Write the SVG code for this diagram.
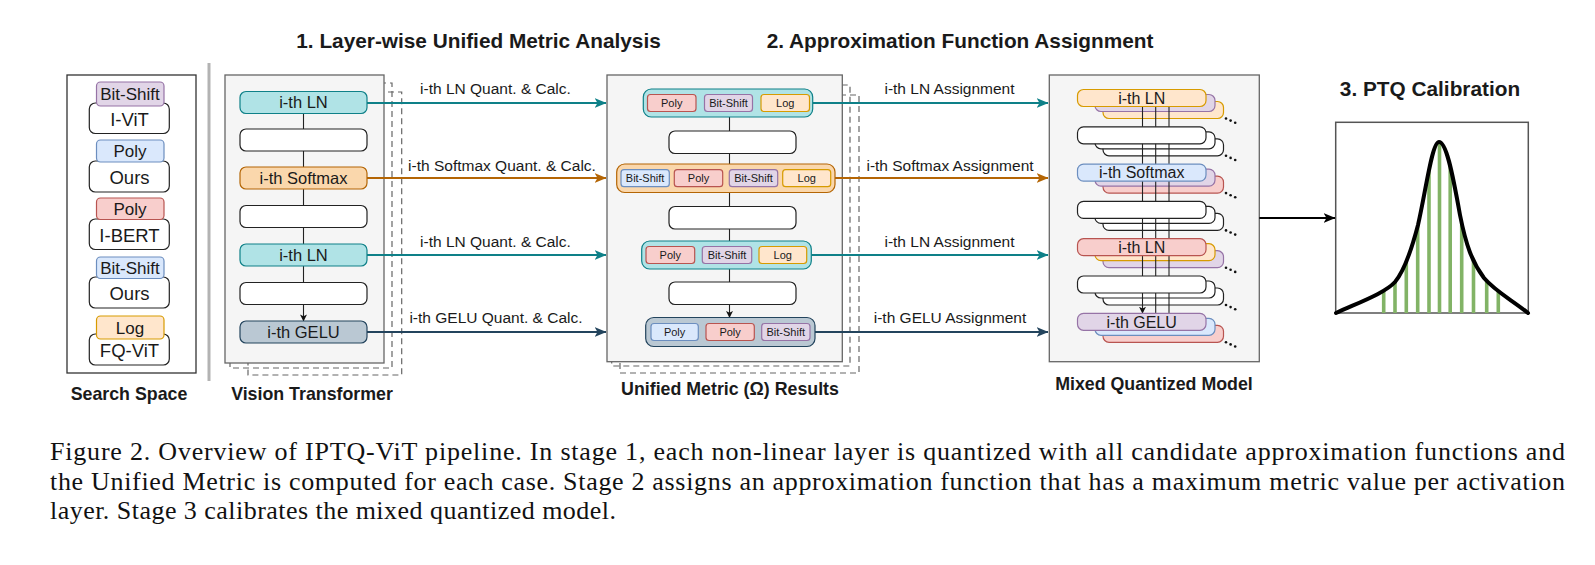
<svg xmlns="http://www.w3.org/2000/svg" width="1595" height="565" viewBox="0 0 1595 565">
<style>
.t{font-family:"Liberation Sans",Arial,sans-serif;fill:#1a1a1a}
.b{font-weight:bold}
.title{font-size:20.8px;font-weight:bold;text-anchor:middle}
.lbl{font-size:17.8px;font-weight:bold;text-anchor:middle}
.nd{font-size:16.5px;text-anchor:middle}
.mq{font-size:16px;text-anchor:middle}
.tab{font-size:17px;text-anchor:middle}
.ss{font-size:18.5px;text-anchor:middle}
.sm{font-size:11px;text-anchor:middle}
.ed{font-size:15.5px;text-anchor:middle}
.cap{font-family:"Liberation Serif","Times New Roman",serif;font-size:26px;fill:#111}
.panel{fill:#f5f5f5;stroke:#666;stroke-width:1.3}
.dash{fill:none;stroke:#666;stroke-width:1.2;stroke-dasharray:6 4}
.wh{fill:#fff;stroke:#222;stroke-width:1.2}
.pu{fill:#e1d5e7;stroke:#9673a6;stroke-width:1.2}
.bl{fill:#dae8fc;stroke:#6c8ebf;stroke-width:1.2}
.rd{fill:#f8cecc;stroke:#b85450;stroke-width:1.2}
.or{fill:#ffe6cc;stroke:#d79b00;stroke-width:1.2}
.te{fill:#b0e3e6;stroke:#0e8088;stroke-width:1.2}
.so{fill:#fad7ac;stroke:#b46504;stroke-width:1.2}
.ge{fill:#bac8d3;stroke:#23445d;stroke-width:1.2}
.cT{stroke:#0e8088;stroke-width:2.2;fill:none}
.cO{stroke:#b46504;stroke-width:2.2;fill:none}
.cG{stroke:#23445d;stroke-width:2.2;fill:none}
.cK{stroke:#222;stroke-width:1.1;fill:none}
.dot{fill:#111}
</style>
<defs>
<marker id="aT" viewBox="0 0 12 10" refX="11.5" refY="5" markerWidth="12" markerHeight="10" markerUnits="userSpaceOnUse" orient="auto"><path d="M0,0 L12,5 L0,10 L3,5 Z" fill="#0e8088"/></marker>
<marker id="aO" viewBox="0 0 12 10" refX="11.5" refY="5" markerWidth="12" markerHeight="10" markerUnits="userSpaceOnUse" orient="auto"><path d="M0,0 L12,5 L0,10 L3,5 Z" fill="#b46504"/></marker>
<marker id="aG" viewBox="0 0 12 10" refX="11.5" refY="5" markerWidth="12" markerHeight="10" markerUnits="userSpaceOnUse" orient="auto"><path d="M0,0 L12,5 L0,10 L3,5 Z" fill="#23445d"/></marker>
<marker id="aK" viewBox="0 0 12 10" refX="11.5" refY="5" markerWidth="12" markerHeight="10" markerUnits="userSpaceOnUse" orient="auto"><path d="M0,0 L12,5 L0,10 L3,5 Z" fill="#000"/></marker>
<marker id="aS" viewBox="0 0 8 8" refX="7.5" refY="4" markerWidth="7" markerHeight="7" markerUnits="userSpaceOnUse" orient="auto"><path d="M0,0 L8,4 L0,8 L2,4 Z" fill="#111"/></marker>
<clipPath id="under"><path d="M1336,313 C1360,302 1385,293 1395,282 C1405,270 1412,248 1418,225 C1426,190 1432,142 1439,142 C1446,142 1452,170 1460,215 C1466,245 1472,262 1484,278 C1496,292 1512,300 1528,313 Z"/></clipPath>
</defs>

<!-- titles -->
<text class="t title" x="478.5" y="48">1. Layer-wise Unified Metric Analysis</text>
<text class="t title" x="960" y="48">2. Approximation Function Assignment</text>
<text class="t title" x="1430" y="96">3. PTQ Calibration</text>

<!-- panels -->
<g id="panels">
<rect x="67" y="75" width="129" height="298" fill="#fff" stroke="#333" stroke-width="1.3"/>
<line x1="209" y1="63" x2="209" y2="381" stroke="#b3b3b3" stroke-width="3"/>
<rect class="dash" x="248" y="92" width="153.7" height="283"/>
<rect class="dash" x="230" y="83" width="162" height="285"/>
<rect class="panel" x="225" y="75" width="159" height="288"/>
<rect class="dash" x="620" y="95" width="239" height="278"/>
<rect class="dash" x="611.7" y="85" width="238.3" height="281"/>
<rect class="panel" x="607" y="75" width="235.3" height="286.7"/>
<rect class="panel" x="1049.3" y="75" width="210" height="286.7"/>
<rect x="1335.7" y="122.3" width="192.6" height="190.7" fill="#fff" stroke="#555" stroke-width="1.5"/>
</g>

<text class="t lbl" x="129" y="399.6">Search Space</text>
<text class="t lbl" x="312" y="399.6">Vision Transformer</text>
<text class="t lbl" x="730" y="394.5">Unified Metric (Ω) Results</text>
<text class="t lbl" x="1154" y="389.5">Mixed Quantized Model</text>

<!-- search space -->
<g id="ss-ivit">
<rect class="wh" x="89.3" y="103" width="80" height="30.5" rx="6"/>
<rect class="pu" x="96.5" y="82" width="67.5" height="24" rx="4"/>
<text class="t tab" x="130" y="100">Bit-Shift</text>
<text class="t ss" x="129.5" y="125.8">I-ViT</text>
</g>
<g id="ss-ours1">
<rect class="wh" x="89.3" y="161" width="80" height="31" rx="6"/>
<rect class="bl" x="96.5" y="140" width="67.5" height="22" rx="4"/>
<text class="t tab" x="130" y="157.2">Poly</text>
<text class="t ss" x="129.5" y="183.8">Ours</text>
</g>
<g id="ss-ibert">
<rect class="wh" x="89.3" y="219" width="80" height="30.5" rx="6"/>
<rect class="rd" x="96.5" y="198" width="67.5" height="21.5" rx="4"/>
<text class="t tab" x="130" y="214.8">Poly</text>
<text class="t ss" x="129.5" y="241.5">I-BERT</text>
</g>
<g id="ss-ours2">
<rect class="wh" x="89.3" y="277" width="80" height="31" rx="6"/>
<rect class="bl" x="96.5" y="257" width="67.5" height="21.5" rx="4"/>
<text class="t tab" x="130" y="273.8">Bit-Shift</text>
<text class="t ss" x="129.5" y="299.8">Ours</text>
</g>
<g id="ss-fqvit">
<rect class="wh" x="89.3" y="334" width="80" height="31" rx="6"/>
<rect class="or" x="96.5" y="316" width="67.5" height="23" rx="4"/>
<text class="t tab" x="130" y="333.6">Log</text>
<text class="t ss" x="129.5" y="356.5">FQ-ViT</text>
</g>

<!-- MQM back layers -->
<g id="mqm-back">
<rect class="or" x="1103" y="101.5" width="120.5" height="17" rx="6"/>
<rect class="pu" x="1095" y="94.5" width="120" height="17" rx="6"/>
<rect class="wh" x="1103" y="138.8" width="120.5" height="17" rx="6"/>
<rect class="wh" x="1095" y="131.8" width="120" height="17" rx="6"/>
<rect class="rd" x="1103" y="176.1" width="120.5" height="17" rx="6"/>
<rect class="pu" x="1095" y="169.1" width="120" height="17" rx="6"/>
<rect class="wh" x="1103" y="213.4" width="120.5" height="17" rx="6"/>
<rect class="wh" x="1095" y="206.4" width="120" height="17" rx="6"/>
<rect class="pu" x="1103" y="250.7" width="120.5" height="17" rx="6"/>
<rect class="or" x="1095" y="243.7" width="120" height="17" rx="6"/>
<rect class="wh" x="1103" y="288" width="120.5" height="17" rx="6"/>
<rect class="wh" x="1095" y="281" width="120" height="17" rx="6"/>
<rect class="rd" x="1103" y="325.3" width="120.5" height="17" rx="6"/>
<rect class="bl" x="1095" y="318.3" width="120" height="17" rx="6"/>
<g class="dot">
<circle cx="1226" cy="118.5" r="1.3"/><circle cx="1230.6" cy="120.6" r="1.3"/><circle cx="1235.2" cy="122.7" r="1.3"/>
<circle cx="1226" cy="155.8" r="1.3"/><circle cx="1230.6" cy="157.9" r="1.3"/><circle cx="1235.2" cy="160" r="1.3"/>
<circle cx="1226" cy="193.1" r="1.3"/><circle cx="1230.6" cy="195.2" r="1.3"/><circle cx="1235.2" cy="197.3" r="1.3"/>
<circle cx="1226" cy="230.4" r="1.3"/><circle cx="1230.6" cy="232.5" r="1.3"/><circle cx="1235.2" cy="234.6" r="1.3"/>
<circle cx="1226" cy="267.7" r="1.3"/><circle cx="1230.6" cy="269.8" r="1.3"/><circle cx="1235.2" cy="271.9" r="1.3"/>
<circle cx="1226" cy="305" r="1.3"/><circle cx="1230.6" cy="307.1" r="1.3"/><circle cx="1235.2" cy="309.2" r="1.3"/>
<circle cx="1226" cy="342.3" r="1.3"/><circle cx="1230.6" cy="344.4" r="1.3"/><circle cx="1235.2" cy="346.5" r="1.3"/>
</g>
</g>

<!-- connectors -->
<g id="connectors">
<line class="cK" x1="303.5" y1="113.5" x2="303.5" y2="321" marker-end="url(#aS)"/>
<line class="cK" x1="729.5" y1="117" x2="729.5" y2="317.5" marker-end="url(#aS)"/>
<line class="cK" x1="1142.5" y1="106.5" x2="1142.5" y2="313.3" marker-end="url(#aS)"/>
<line class="cK" x1="1155.7" y1="106.5" x2="1155.7" y2="313.3"/>
<line class="cK" x1="1169" y1="106.5" x2="1169" y2="313.3"/>

<line class="cT" x1="367" y1="103" x2="606" y2="103" marker-end="url(#aT)"/>
<line class="cO" x1="367" y1="178" x2="606" y2="178" marker-end="url(#aO)"/>
<line class="cT" x1="367" y1="255" x2="606" y2="255" marker-end="url(#aT)"/>
<line class="cG" x1="367" y1="332" x2="606" y2="332" marker-end="url(#aG)"/>
<text class="t ed" x="495.5" y="93.5">i-th LN Quant. &amp; Calc.</text>
<text class="t ed" x="502" y="170.5">i-th Softmax Quant. &amp; Calc.</text>
<text class="t ed" x="495.5" y="246.5">i-th LN Quant. &amp; Calc.</text>
<text class="t ed" x="496" y="322.5">i-th GELU Quant. &amp; Calc.</text>

<line class="cT" x1="812.7" y1="103" x2="1048" y2="103" marker-end="url(#aT)"/>
<line class="cO" x1="835" y1="178" x2="1048" y2="178" marker-end="url(#aO)"/>
<line class="cT" x1="811.3" y1="255" x2="1048" y2="255" marker-end="url(#aT)"/>
<line class="cG" x1="815" y1="332" x2="1048" y2="332" marker-end="url(#aG)"/>
<text class="t ed" x="949.5" y="93.5">i-th LN Assignment</text>
<text class="t ed" x="950" y="170.5">i-th Softmax Assignment</text>
<text class="t ed" x="949.5" y="246.5">i-th LN Assignment</text>
<text class="t ed" x="950" y="322.5">i-th GELU Assignment</text>

<line x1="1259.3" y1="218" x2="1335" y2="218" stroke="#000" stroke-width="2" marker-end="url(#aK)"/>
</g>

<!-- Vision Transformer nodes -->
<g id="vt-ln1"><rect class="te" x="240" y="91.5" width="127" height="22" rx="6"/><text class="t nd" x="303.5" y="108.4">i-th LN</text></g>
<g id="vt-w1"><rect class="wh" x="240" y="129" width="127" height="22" rx="6"/></g>
<g id="vt-softmax"><rect class="so" x="240" y="167" width="127" height="22" rx="6"/><text class="t nd" x="303.5" y="183.9">i-th Softmax</text></g>
<g id="vt-w2"><rect class="wh" x="240" y="205.5" width="127" height="22" rx="6"/></g>
<g id="vt-ln2"><rect class="te" x="240" y="244" width="127" height="22" rx="6"/><text class="t nd" x="303.5" y="260.9">i-th LN</text></g>
<g id="vt-w3"><rect class="wh" x="240" y="282.5" width="127" height="22" rx="6"/></g>
<g id="vt-gelu"><rect class="ge" x="240" y="321" width="127" height="22" rx="6"/><text class="t nd" x="303.5" y="337.9">i-th GELU</text></g>

<!-- Unified metric results -->
<g id="um-ln1">
<rect class="te" x="643.3" y="89" width="169.4" height="28" rx="8"/>
<rect class="rd" x="647.5" y="94.5" width="48.5" height="17" rx="3"/><text class="t sm" x="671.7" y="107">Poly</text>
<rect class="pu" x="704.5" y="94.5" width="48" height="17" rx="3"/><text class="t sm" x="728.5" y="107">Bit-Shift</text>
<rect class="or" x="761" y="94.5" width="48.5" height="17" rx="3"/><text class="t sm" x="785.2" y="107">Log</text>
</g>
<g id="um-w1"><rect class="wh" x="669" y="131" width="127" height="22.5" rx="6"/></g>
<g id="um-softmax">
<rect class="so" x="616.7" y="164" width="218.3" height="28.5" rx="8"/>
<rect class="bl" x="621" y="169.7" width="48.3" height="17" rx="3"/><text class="t sm" x="645.1" y="182.2">Bit-Shift</text>
<rect class="rd" x="674.3" y="169.7" width="48.4" height="17" rx="3"/><text class="t sm" x="698.5" y="182.2">Poly</text>
<rect class="pu" x="729.3" y="169.7" width="48.4" height="17" rx="3"/><text class="t sm" x="753.5" y="182.2">Bit-Shift</text>
<rect class="or" x="782.7" y="169.7" width="48" height="17" rx="3"/><text class="t sm" x="806.7" y="182.2">Log</text>
</g>
<g id="um-w2"><rect class="wh" x="669" y="206.5" width="127" height="22.5" rx="6"/></g>
<g id="um-ln2">
<rect class="te" x="641.7" y="241" width="169.6" height="28" rx="8"/>
<rect class="rd" x="646" y="246.5" width="48.7" height="17" rx="3"/><text class="t sm" x="670.3" y="259">Poly</text>
<rect class="pu" x="702.3" y="246.5" width="49.4" height="17" rx="3"/><text class="t sm" x="727" y="259">Bit-Shift</text>
<rect class="or" x="759" y="246.5" width="47.7" height="17" rx="3"/><text class="t sm" x="782.8" y="259">Log</text>
</g>
<g id="um-w3"><rect class="wh" x="669" y="282" width="127" height="22.5" rx="6"/></g>
<g id="um-gelu">
<rect class="ge" x="645.7" y="317.5" width="169.3" height="29" rx="8"/>
<rect class="bl" x="651" y="323.5" width="47.3" height="17" rx="3"/><text class="t sm" x="674.6" y="336">Poly</text>
<rect class="rd" x="706" y="323.5" width="48.3" height="17" rx="3"/><text class="t sm" x="730.1" y="336">Poly</text>
<rect class="pu" x="761.7" y="323.5" width="48.3" height="17" rx="3"/><text class="t sm" x="785.8" y="336">Bit-Shift</text>
</g>

<!-- Mixed quantized model front nodes -->
<g id="mq-ln1"><rect class="or" x="1077.5" y="89.5" width="128.5" height="17" rx="6"/><text class="t mq" x="1141.7" y="103.8">i-th LN</text></g>
<g id="mq-w1"><rect class="wh" x="1077.5" y="126.8" width="128.5" height="17" rx="6"/></g>
<g id="mq-softmax"><rect class="bl" x="1077.5" y="164.1" width="128.5" height="17" rx="6"/><text class="t mq" x="1141.7" y="178.4">i-th Softmax</text></g>
<g id="mq-w2"><rect class="wh" x="1077.5" y="201.4" width="128.5" height="17" rx="6"/></g>
<g id="mq-ln2"><rect class="rd" x="1077.5" y="238.7" width="128.5" height="17" rx="6"/><text class="t mq" x="1141.7" y="253">i-th LN</text></g>
<g id="mq-w3"><rect class="wh" x="1077.5" y="276" width="128.5" height="17" rx="6"/></g>
<g id="mq-gelu"><rect class="pu" x="1077.5" y="313.3" width="128.5" height="17" rx="6"/><text class="t mq" x="1141.7" y="327.6">i-th GELU</text></g>

<!-- PTQ calibration chart -->
<g id="ptq-chart">
<g clip-path="url(#under)" stroke="#82b366" stroke-width="3.6">
<line x1="1383.7" y1="130" x2="1383.7" y2="313"/>
<line x1="1395" y1="130" x2="1395" y2="313"/>
<line x1="1406.3" y1="130" x2="1406.3" y2="313"/>
<line x1="1417.7" y1="130" x2="1417.7" y2="313"/>
<line x1="1429" y1="130" x2="1429" y2="313"/>
<line x1="1439.5" y1="130" x2="1439.5" y2="313"/>
<line x1="1450.2" y1="130" x2="1450.2" y2="313"/>
<line x1="1461.7" y1="130" x2="1461.7" y2="313"/>
<line x1="1473.5" y1="130" x2="1473.5" y2="313"/>
<line x1="1486.7" y1="130" x2="1486.7" y2="313"/>
<line x1="1498.3" y1="130" x2="1498.3" y2="313"/>
</g>
<path d="M1336,313 C1360,302 1385,293 1395,282 C1405,270 1412,248 1418,225 C1426,190 1432,142 1439,142 C1446,142 1452,170 1460,215 C1466,245 1472,262 1484,278 C1496,292 1512,300 1528,313" fill="none" stroke="#000" stroke-width="4" stroke-linecap="round" stroke-linejoin="round"/>
</g>

<!-- caption -->
<text class="cap" x="50" y="460" textLength="1515" lengthAdjust="spacing">Figure 2. Overview of IPTQ-ViT pipeline. In stage 1, each non-linear layer is quantized with all candidate approximation functions and</text>
<text class="cap" x="50" y="489.5" textLength="1515" lengthAdjust="spacing">the Unified Metric is computed for each case. Stage 2 assigns an approximation function that has a maximum metric value per activation</text>
<text class="cap" x="50" y="519" textLength="566" lengthAdjust="spacing">layer. Stage 3 calibrates the mixed quantized model.</text>
</svg>
